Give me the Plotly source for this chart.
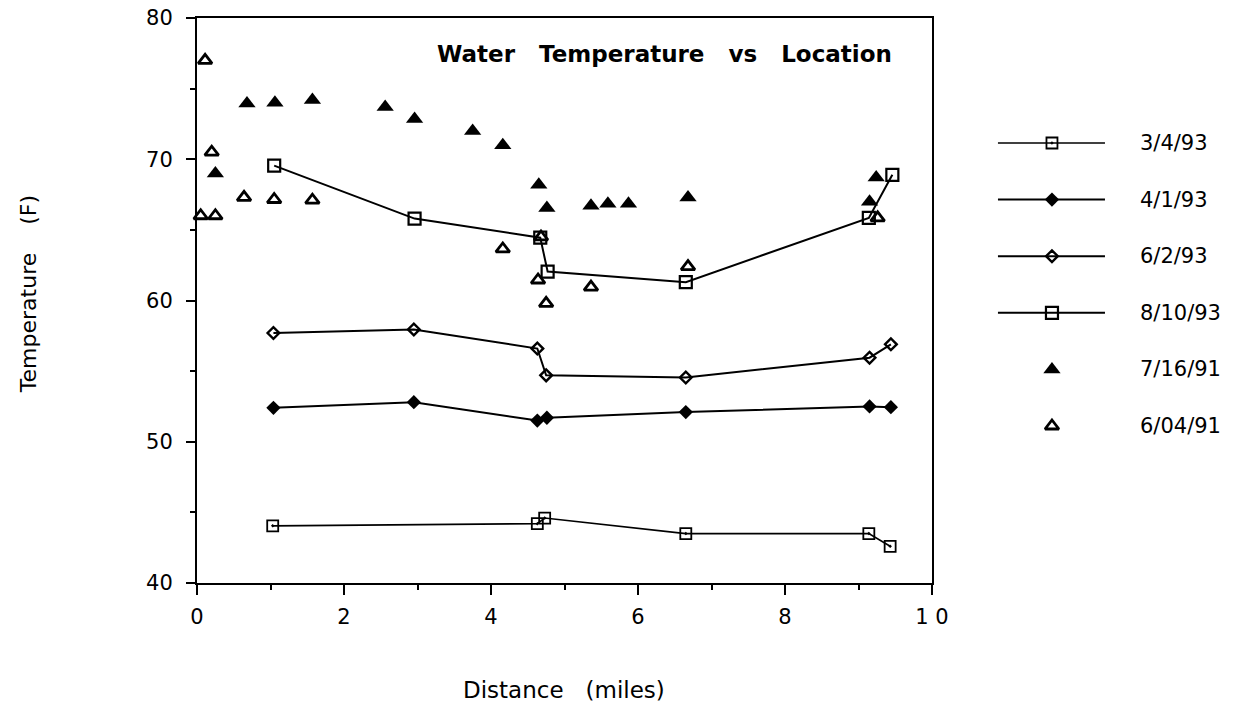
import plotly.graph_objects as go

# Survey dates and readings: distance downstream (miles) vs water temperature (F)
series_names = ["3/4/93", "4/1/93", "6/2/93", "8/10/93", "7/16/91", "6/04/91"]

dist_3_4_93 = [1.03, 4.63, 4.73, 6.65, 9.14, 9.43]
temp_3_4_93 = [44.05, 44.2, 44.6, 43.5, 43.5, 42.6]

dist_4_1_93 = [1.04, 2.95, 4.63, 4.76, 6.65, 9.15, 9.44]
temp_4_1_93 = [52.4, 52.8, 51.5, 51.7, 52.1, 52.5, 52.45]

dist_6_2_93 = [1.04, 2.95, 4.63, 4.75, 6.65, 9.15, 9.44]
temp_6_2_93 = [57.7, 57.95, 56.6, 54.7, 54.55, 55.95, 56.9]

dist_8_10_93 = [1.05, 2.96, 4.67, 4.77, 6.65, 9.14, 9.46]
temp_8_10_93 = [69.55, 65.8, 64.45, 62.05, 61.3, 65.85, 68.9]

dist_7_16_91 = [0.25, 0.68, 1.06, 1.57, 2.56, 2.96, 3.75, 4.16, 4.65, 4.76,
                5.36, 5.59, 5.87, 6.68, 9.15, 9.24]
temp_7_16_91 = [69.0, 73.95, 74.0, 74.2, 73.7, 72.85, 72.0, 71.0, 68.2, 66.55,
                66.7, 66.85, 66.85, 67.3, 67.0, 68.7]

dist_6_04_91 = [0.05, 0.11, 0.2, 0.25, 0.64, 1.05, 1.57, 4.16, 4.64, 4.68,
                4.75, 5.36, 6.68, 9.26]
temp_6_04_91 = [66.0, 77.0, 70.5, 66.0, 67.3, 67.15, 67.1, 63.65, 61.45, 64.5,
                59.8, 60.95, 62.4, 65.85]

x_ticks = [0, 2, 4, 6, 8, 10]
x_tick_text = ["0", "2", "4", "6", "8", "1 0"]
y_ticks = [40, 50, 60, 70, 80]

data = [
    (dist_3_4_93, temp_3_4_93),
    (dist_4_1_93, temp_4_1_93),
    (dist_6_2_93, temp_6_2_93),
    (dist_8_10_93, temp_8_10_93),
    (dist_7_16_91, temp_7_16_91),
    (dist_6_04_91, temp_6_04_91),
]

INK = "black"
styles = [
    dict(mode="lines+markers", line=dict(color=INK, width=1.7),
         marker=dict(symbol="square-open-dot", size=11, color=INK, line=dict(width=1.8, color=INK))),
    dict(mode="lines+markers", line=dict(color=INK, width=2),
         marker=dict(symbol="diamond", size=11, color=INK)),
    dict(mode="lines+markers", line=dict(color=INK, width=2),
         marker=dict(symbol="diamond-open", size=9, color=INK, line=dict(width=2.4, color=INK))),
    dict(mode="lines+markers", line=dict(color=INK, width=2),
         marker=dict(symbol="square-open", size=12, color=INK, line=dict(width=2.2, color=INK))),
    dict(mode="markers",
         marker=dict(symbol="triangle-up", size=15, color=INK)),
    dict(mode="markers",
         marker=dict(symbol="triangle-up-open", size=12, color=INK, line=dict(width=2.8, color=INK))),
]

fig = go.Figure()

for name, (xs, ys), st in zip(series_names, data, styles):
    fig.add_trace(go.Scatter(x=xs, y=ys, name=name, showlegend=False,
                             cliponaxis=False, xaxis="x", yaxis="y", **st))

# Key on a separate hidden axis pair to the right of the plot
for i, (name, st) in enumerate(zip(series_names, styles)):
    row_y = -i
    if st["mode"] == "lines+markers":
        fig.add_trace(go.Scatter(x=[8, 115], y=[row_y, row_y], mode="lines",
                                 line=st["line"], showlegend=False,
                                 xaxis="x2", yaxis="y2", hoverinfo="skip"))
    fig.add_trace(go.Scatter(x=[62], y=[row_y], mode="markers", marker=st["marker"],
                             showlegend=False, xaxis="x2", yaxis="y2", hoverinfo="skip"))
    fig.add_annotation(x=148, y=row_y, xref="x2", yref="y2", text=name,
                       showarrow=False, xanchor="left", yanchor="middle",
                       font=dict(family="DejaVu Sans", size=21, color=INK))

tick_font = dict(family="DejaVu Sans", size=21, color=INK)

fig.update_layout(
    width=1233, height=708,
    margin=dict(l=197, r=0, t=18, b=125, autoexpand=False),
    paper_bgcolor="white", plot_bgcolor="white",
    showlegend=False,
    xaxis=dict(domain=[0, 0.7095], range=[0, 10], tickvals=x_ticks, ticktext=x_tick_text,
               ticks="outside", ticklen=10, tickwidth=2, tickcolor=INK,
               minor=dict(ticks="outside", dtick=1, ticklen=5, tickwidth=2, tickcolor=INK),
               showline=True, linewidth=2, linecolor=INK, mirror=True, automargin=False,
               showgrid=False, zeroline=False, tickfont=tick_font, ticklabelstandoff=4),
    yaxis=dict(domain=[0, 1], range=[40, 80], tickvals=y_ticks,
               ticks="outside", ticklen=9, tickwidth=2, tickcolor=INK,
               minor=dict(ticks="outside", dtick=5, ticklen=5, tickwidth=2, tickcolor=INK),
               showline=True, linewidth=2, linecolor=INK, mirror=True, automargin=False,
               showgrid=False, zeroline=False, tickfont=tick_font, ticklabelstandoff=9),
    xaxis2=dict(domain=[0.7654, 1], range=[0, 243], visible=False, anchor="y2", automargin=False),
    yaxis2=dict(domain=[0, 1], range=[-7.774, 2.208], visible=False, anchor="x2", automargin=False),
)

sp = "\u00a0\u00a0\u00a0"
fig.add_annotation(x=0.2297, y=0.9363, xref="paper", yref="paper",
                   text=f"Water{sp}Temperature{sp}vs{sp}Location",
                   showarrow=False, xanchor="left", yanchor="middle",
                   font=dict(family="DejaVu Sans", size=23, color=INK, weight="bold"))

fig.add_annotation(x=0.3547, y=-0.19, xref="paper", yref="paper",
                   text="Distance\u00a0\u00a0\u00a0(miles)",
                   showarrow=False, xanchor="center", yanchor="middle",
                   font=dict(family="DejaVu Sans", size=23, color=INK))

fig.add_annotation(x=-0.163, y=0.5115, xref="paper", yref="paper",
                   text="Temperature\u00a0\u00a0\u00a0\u00a0(F)", textangle=-90,
                   showarrow=False, xanchor="center", yanchor="middle",
                   font=dict(family="DejaVu Sans", size=22, color=INK))

fig.write_html("out.html")
